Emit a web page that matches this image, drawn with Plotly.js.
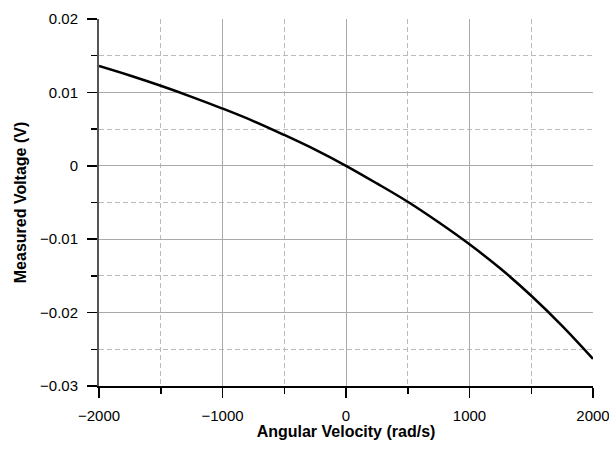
<!DOCTYPE html>
<html>
<head>
<meta charset="utf-8">
<script src="https://cdn.plot.ly/plotly-3.0.1.min.js"></script>
<style>html,body{margin:0;padding:0;background:#fff;}#chart{width:609px;height:450px;}</style>
</head>
<body>
<div id="chart"></div>
<script>
const angularVelocity = [-2000,-1750,-1500,-1250,-1000,-750,-500,-250,0,250,500,750,1000,1250,1500,1750,2000];
const measuredVoltage = [0.0136,0.0123,0.0109,0.0094,0.0078,0.0061,0.0042,0.0022,0,-0.0024,-0.0049,-0.0077,-0.0107,-0.0140,-0.0177,-0.0218,-0.0263];
const xTitle = 'Angular Velocity (rad/s)';
const yTitle = 'Measured Voltage (V)';

const fontFam = 'Liberation Sans, Arial, Helvetica, sans-serif';
const trace = {
  x: angularVelocity, y: measuredVoltage, type: 'scatter', mode: 'lines',
  line: {color: '#000', width: 2.5, shape: 'spline', smoothing: 1}, hoverinfo: 'skip'
};
const axBase = {
  showline: true, linecolor: '#000', linewidth: 1.5, mirror: false,
  ticks: 'outside', ticklen: 10, tickwidth: 1.5, tickcolor: '#000',
  showgrid: true, gridcolor: '#aaa', gridwidth: 1, zeroline: false,
  tickfont: {family: fontFam, size: 15, color: '#000'},
  exponentformat: 'none', separatethousands: false, ticklabeloverflow: 'allow'
};
const minorBase = {showgrid: true, griddash: '5px,3px', gridcolor: '#bbb', gridwidth: 1, ticks: 'outside', ticklen: 6, tickcolor: '#000', tickwidth: 1.5};
const layout = {
  width: 609, height: 450,
  margin: {l: 99, r: 16, t: 19, b: 64},
  paper_bgcolor: '#fff', plot_bgcolor: '#fff',
  showlegend: false,
  font: {family: fontFam, color: '#000'},
  xaxis: Object.assign({}, axBase, {
    range: [-2000, 2000], dtick: 1000, tick0: 0, ticklabelstandoff: 5,
    minor: Object.assign({dtick: 500}, minorBase),
    title: {text: '<b>' + xTitle + '</b>', font: {family: fontFam, size: 16, color: '#000'}, standoff: 3}
  }),
  yaxis: Object.assign({}, axBase, {
    range: [-0.03, 0.02], dtick: 0.01, tick0: 0, linecolor: '#555', linewidth: 2, ticklabelstandoff: 6,
    minor: Object.assign({dtick: 0.005}, minorBase),
    title: {text: '<b>' + yTitle + '</b>', font: {family: fontFam, size: 16, color: '#000'}, standoff: 9}
  })
};
Plotly.newPlot('chart', [trace], layout, {displayModeBar: false, staticPlot: true});
</script>
</body>
</html>
